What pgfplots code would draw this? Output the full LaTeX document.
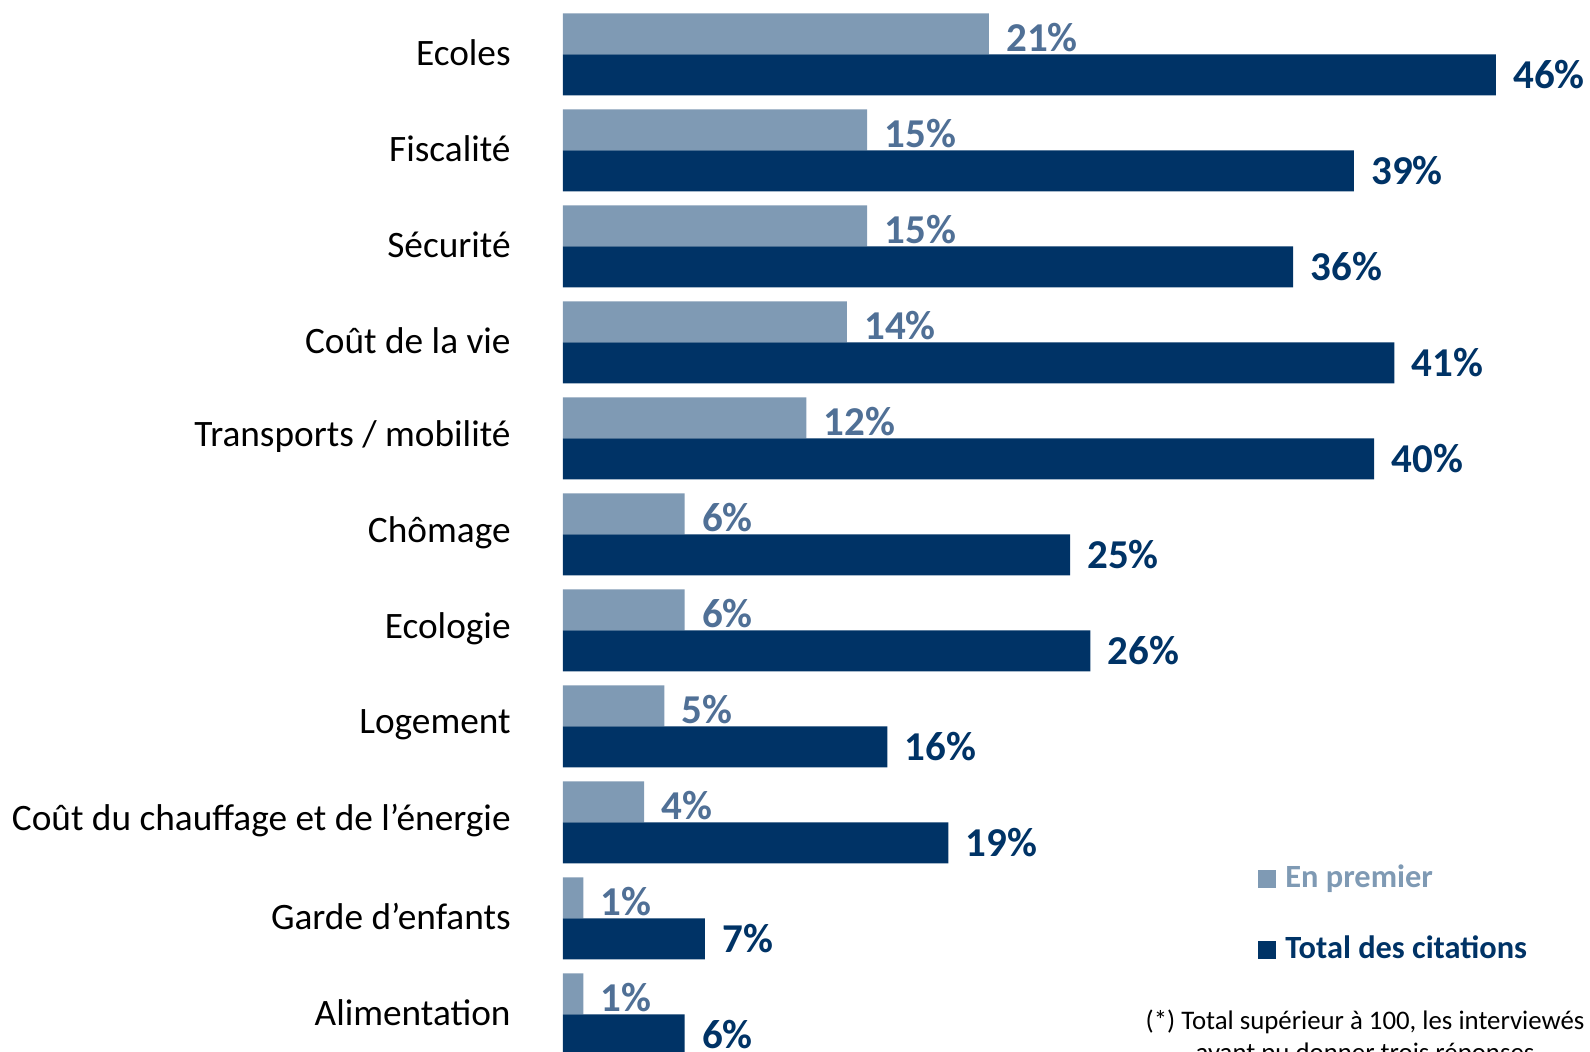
\documentclass[border=0pt]{standalone}
\usepackage{fontspec}
\setmainfont{Carlito}
\usepackage{pgfplots}
\pgfplotsset{compat=1.18}
\definecolor{lightbar}{RGB}{127,154,180}
\definecolor{lightlab}{RGB}{80,112,150}
\definecolor{darkbar}{RGB}{0,51,102}
\begin{document}
\begin{tikzpicture}
\useasboundingbox (0pt,0pt) rectangle (795pt,526pt);
\clip (0pt,0pt) rectangle (795pt,526pt);
\begin{axis}[
  at={(281.5pt,522.75pt)}, anchor=north west,
  scale only axis, width=507pt, height=528pt,
  xbar, bar width=20.5pt,
  xmin=0, xmax=50, ymin=-0.5, ymax=10.5,
  axis line style={draw=none}, major tick length=0pt,
  xtick=\empty,
  ytick={0,...,10},
  yticklabels={Alimentation,Garde d’enfants,Coût du chauffage et de l’énergie,Logement,Ecologie,Chômage,Transports / mobilité,Coût de la vie,Sécurité,Fiscalité,Ecoles},
  yticklabel style={font=\fontsize{18.65}{22}\selectfont, anchor=east, inner sep=0pt, xshift=-26pt, yshift=0.8pt, text=black},
  clip=false,
  point meta=explicit symbolic,
  nodes near coords,
]
\addplot[fill=lightbar, draw=none, bar shift=10.25pt,
  nodes near coords style={font=\fontsize{20.5}{24}\selectfont\bfseries, text=lightlab, anchor=west, inner sep=0pt, xshift=8.5pt, yshift=-2pt}]
  coordinates {(21,10)[21\%] (15,9)[15\%] (15,8)[15\%] (14,7)[14\%] (12,6)[12\%] (6,5)[6\%] (6,4)[6\%] (5,3)[5\%] (4,2)[4\%] (1,1)[1\%] (1,0)[1\%]};
\addplot[fill=darkbar, draw=none, bar shift=-10.25pt,
  nodes near coords style={font=\fontsize{20.5}{24}\selectfont\bfseries, text=darkbar, anchor=west, inner sep=0pt, xshift=8.5pt}]
  coordinates {(46,10)[46\%] (39,9)[39\%] (36,8)[36\%] (41,7)[41\%] (40,6)[40\%] (25,5)[25\%] (26,4)[26\%] (16,3)[16\%] (19,2)[19\%] (7,1)[7\%] (6,0)[6\%]};
\end{axis}
\fill[lightbar] (629pt,82pt) rectangle (638pt,91pt);
\node[anchor=base west, inner sep=0pt, text=lightbar, font=\fontsize{16.2}{19}\selectfont\bfseries] at (642.5pt,82pt) {En premier};
\fill[darkbar] (629pt,46.5pt) rectangle (638pt,55.5pt);
\node[anchor=base west, inner sep=0pt, text=darkbar, font=\fontsize{16.2}{19}\selectfont\bfseries] at (642.5pt,46.5pt) {Total des citations};
\node[anchor=base, inner sep=0pt, font=\fontsize{13.4}{16}\selectfont] at (682.5pt,11pt) {(*) Total supérieur à 100, les interviewés};
\node[anchor=base, inner sep=0pt, font=\fontsize{13.4}{16}\selectfont] at (682.5pt,-5pt) {ayant pu donner trois réponses};
\end{tikzpicture}
\end{document}
